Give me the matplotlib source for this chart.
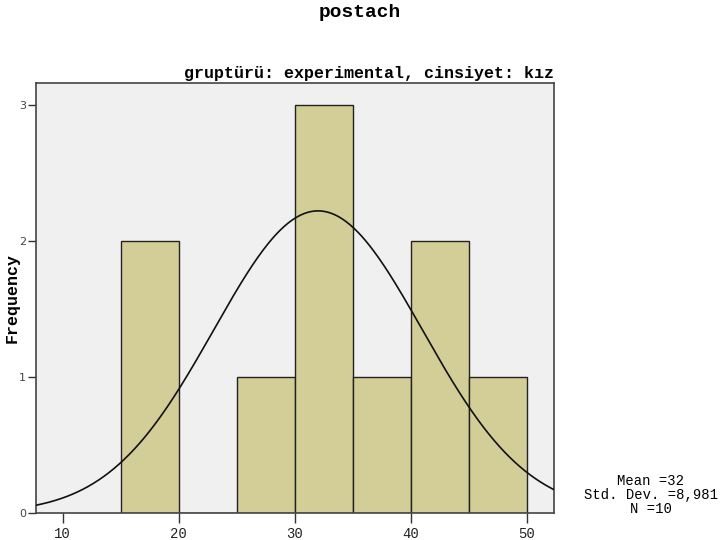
"""Histograma de postach con curva normal (estilo SPSS)"""

import numpy as np
import matplotlib
matplotlib.use("Agg")
import matplotlib.pyplot as plt

# Datos
bordes = [15, 20, 25, 30, 35, 40, 45, 50]
frecuencias = [2, 0, 1, 3, 1, 2, 1]
media = 32
desv = 8.981
n = 10

MONO = "Liberation Mono"

fig = plt.figure(figsize=(7.2, 5.4), dpi=100)
ax = fig.add_axes([0.05, 0.05, 0.719, 0.796])
ax.set_facecolor("#F0F0F0")

# Barras del histograma
izq = bordes[:-1]
anchos = np.diff(bordes)
ax.bar(izq, frecuencias, width=anchos, align="edge", color="#D3CE97",
       edgecolor="#222222", linewidth=1.0, zorder=2)

# Curva normal escalada a frecuencias
xs = np.linspace(7.7, 52.3, 400)
ys = n * anchos[0] / (desv * np.sqrt(2 * np.pi)) * np.exp(-0.5 * ((xs - media) / desv) ** 2)
ax.plot(xs, ys, color="#111111", linewidth=1.2, zorder=3)

ax.set_xlim(7.7, 52.3)
ax.set_ylim(0, 3.16)
ax.set_xticks([10, 20, 30, 40, 50])
ax.set_yticks([0, 1, 2, 3])
ax.tick_params(axis="x", direction="out", length=7, width=1, color="#333333",
               labelcolor="#222222", labelsize=10, pad=3)
ax.tick_params(axis="y", direction="out", length=6, width=1, color="#333333",
               labelcolor="#444444", labelsize=8, pad=1)
for lbl in ax.get_xticklabels():
    lbl.set_family(MONO)
for s in ax.spines.values():
    s.set_color("#444444")
    s.set_linewidth(1.2)

ax.set_ylabel("Frequency", family=MONO, fontweight="bold",
              fontsize=12, labelpad=0)
ax.set_title("gruptürü: experimental, cinsiyet: kız", loc="right",
             family=MONO, fontweight="bold", fontsize=12, pad=4)

fig.text(0.5, 0.976, "postach", ha="center", va="center",
         family=MONO, fontweight="bold", fontsize=14)

# Estadisticos a la derecha
stats = ["Mean =32", "Std. Dev. =8,981", "N =10"]
for i, linea in enumerate(stats):
    fig.text(0.904, 1 - (481 + 14 * i) / 540, linea, ha="center", va="center",
             family=MONO, fontsize=10)

fig.savefig("out.png", dpi=100)
